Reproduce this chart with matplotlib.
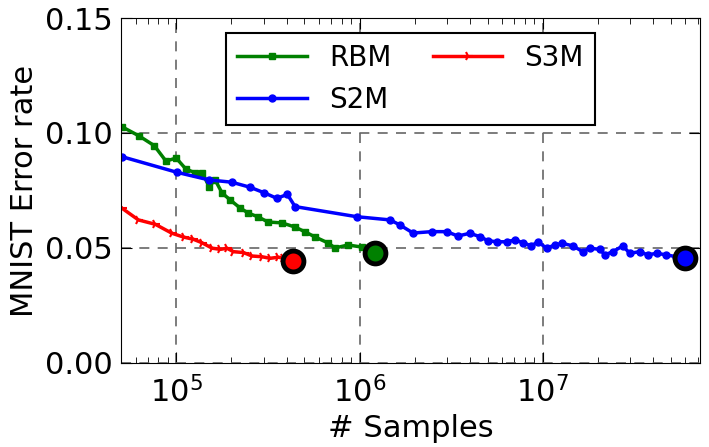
import numpy as np
import matplotlib
matplotlib.use('Agg')
import matplotlib.pyplot as plt

plt.rcParams.update({'font.size': 22})

# RBM
rbm_x = [5.06e4, 6.28e4, 7.59e4, 8.79e4, 1.0e5, 1.13e5, 1.27e5, 1.39e5, 1.51e5,
         1.63e5, 1.78e5, 1.97e5, 2.23e5, 2.47e5, 2.80e5, 3.17e5, 3.78e5, 4.45e5,
         5.05e5, 5.72e5, 6.73e5, 7.35e5, 8.65e5, 1.03e6, 1.17e6]
rbm_y = [0.1027, 0.0987, 0.0945, 0.0878, 0.0891, 0.0843, 0.0827, 0.0827, 0.0767,
         0.0796, 0.0739, 0.0709, 0.0674, 0.0652, 0.0635, 0.0613, 0.0609, 0.0591,
         0.0570, 0.0548, 0.0522, 0.0500, 0.0513, 0.0504, 0.0500]
rbm_end = (1.21e6, 0.0478)

# S2M
s2m_x = [5.06e4, 1.01e5, 1.51e5, 2.01e5, 2.53e5, 3.02e5, 3.54e5, 4.04e5, 4.45e5,
         9.66e5, 1.47e6, 1.66e6, 1.96e6, 2.47e6, 2.99e6, 3.44e6, 4.00e6, 4.54e6,
         5.01e6, 5.59e6, 6.34e6, 7.04e6, 7.78e6, 8.67e6, 9.39e6, 1.05e7, 1.16e7,
         1.28e7, 1.46e7, 1.65e7, 1.80e7, 2.05e7, 2.18e7, 2.41e7, 2.73e7, 2.98e7,
         3.38e7, 3.73e7, 4.17e7, 4.72e7, 5.35e7]
s2m_y = [0.0897, 0.0829, 0.0796, 0.0786, 0.0764, 0.0740, 0.0716, 0.0733, 0.0680,
         0.0636, 0.0622, 0.0600, 0.0565, 0.0571, 0.0571, 0.0552, 0.0564, 0.0549,
         0.0532, 0.0527, 0.0527, 0.0535, 0.0523, 0.0509, 0.0527, 0.0499, 0.0513,
         0.0520, 0.0509, 0.0484, 0.0499, 0.0494, 0.0470, 0.0484, 0.0509, 0.0477,
         0.0484, 0.0470, 0.0477, 0.0470, 0.0462]
s2m_end = (5.94e7, 0.0458)

# S3M
s3m_x = [5.06e4, 6.22e4, 7.69e4, 9.48e4, 1.10e5, 1.24e5, 1.38e5, 1.57e5, 1.74e5,
         1.89e5, 2.05e5, 2.33e5, 2.59e5, 2.93e5, 3.25e5, 3.61e5, 3.84e5]
s3m_y = [0.0673, 0.0622, 0.0603, 0.0564, 0.0547, 0.0538, 0.0523, 0.0499, 0.0494,
         0.0499, 0.0484, 0.0480, 0.0465, 0.0462, 0.0455, 0.0460, 0.0455]
s3m_end = (4.36e5, 0.0443)

fig = plt.figure(figsize=(7.09, 4.47), dpi=100)
ax = fig.add_axes([0.1707, 0.188, 0.8166, 0.7717])

l1, = ax.plot(rbm_x, rbm_y, 's-', color='g', lw=2.5, ms=5, mec='g', label='RBM')
l2, = ax.plot(s2m_x, s2m_y, 'o-', color='b', lw=2.5, ms=5, mec='b', label='S2M')
l3, = ax.plot(s3m_x, s3m_y, '4-', color='r', lw=2.5, ms=7, mew=1.5, label='S3M')

for (ex, ey), c in [(rbm_end, 'g'), (s2m_end, 'b'), (s3m_end, 'r')]:
    ax.plot([ex], [ey], 'o', color=c, ms=15, mec='k', mew=3.5, zorder=5)

ax.set_xscale('log')
ax.set_xlim(5e4, 7.2e7)
ax.set_ylim(0, 0.15)
ax.set_yticks([0.0, 0.05, 0.10, 0.15])
ax.set_yticklabels(['0.00', '0.05', '0.10', '0.15'])
ax.grid(True, which='major', color='0.4', linestyle=(0, (6, 5)), lw=1.2)
ax.tick_params(which='both', direction='in', top=True, right=True)
ax.tick_params(which='major', length=8)
ax.tick_params(axis='x', which='major', pad=9)
ax.tick_params(axis='y', which='major', pad=6)
ax.tick_params(which='minor', length=4)
ax.set_xlabel('# Samples')
ax.set_ylabel('MNIST Error rate')

leg = ax.legend(handles=[l1, l2, l3], loc='upper center', ncol=2, fontsize=20,
                bbox_to_anchor=(0.5, 0.998), fancybox=False, framealpha=1,
                edgecolor='k', columnspacing=1.5, handlelength=2.5)
leg.get_frame().set_linewidth(1.5)

fig.savefig('out.png', dpi=100)
